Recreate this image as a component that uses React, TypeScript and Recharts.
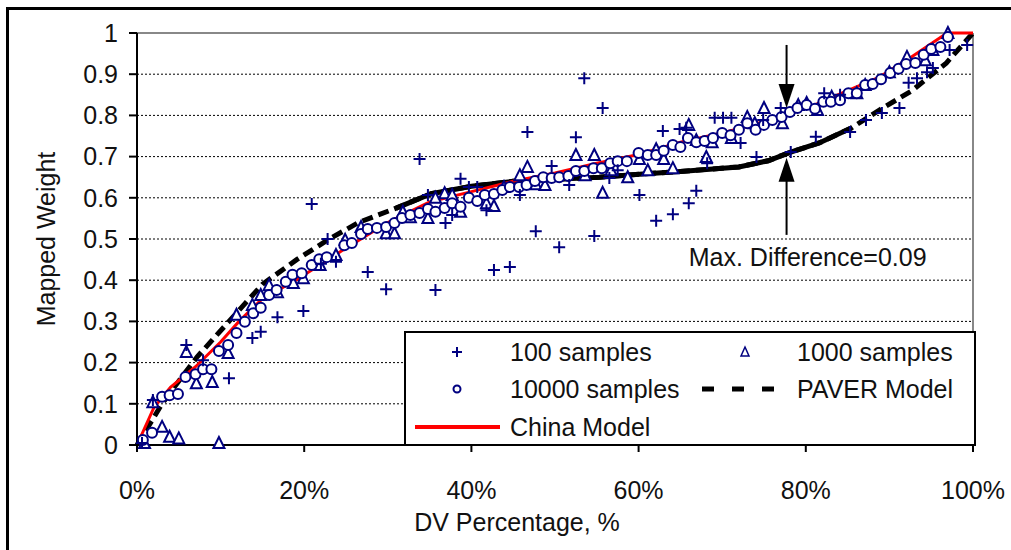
import {
  CartesianGrid,
  ComposedChart,
  Legend,
  Line,
  ReferenceDot,
  ReferenceLine,
  Scatter,
  XAxis,
  YAxis,
} from "recharts";

const xTicks = [0, 20, 40, 60, 80, 100];
const yTicks = [0, 0.1, 0.2, 0.3, 0.4, 0.5, 0.6, 0.7, 0.8, 0.9, 1];

// [DV %, mapped weight]
const samples100 = [
  [0.6, 0.005], [1.9, 0.109], [5.9, 0.243], [7.9, 0.206], [11, 0.162], [13.8, 0.26],
  [14.8, 0.275], [16.8, 0.31], [19.9, 0.325], [20.9, 0.585], [22, 0.44], [22.8, 0.5],
  [23.8, 0.445], [27.6, 0.42], [29.8, 0.378], [33.8, 0.694], [34.8, 0.607], [35.7, 0.376],
  [36.9, 0.539], [37.7, 0.558], [38.7, 0.646], [39.7, 0.626], [40.7, 0.626], [41.8, 0.57],
  [42.7, 0.425], [44.6, 0.432], [45.8, 0.607], [46.7, 0.76], [47.7, 0.519], [49.6, 0.677],
  [50.5, 0.48], [51.7, 0.631], [52.5, 0.747], [53.5, 0.89], [54.7, 0.507], [55.7, 0.818],
  [56.5, 0.648], [57.5, 0.667], [60.1, 0.607], [62.1, 0.544], [62.9, 0.762], [64.1, 0.56],
  [64.9, 0.767], [65.7, 0.77], [66, 0.587], [66.9, 0.617], [68.2, 0.684], [69.1, 0.794],
  [70.1, 0.794], [71.1, 0.794], [72.2, 0.733], [74.1, 0.699], [74.9, 0.789], [77, 0.818],
  [78.2, 0.711], [81.2, 0.748], [82.2, 0.854], [84.1, 0.85], [85.3, 0.76], [87.2, 0.789],
  [89.1, 0.806], [91.2, 0.818], [92.3, 0.879], [93.3, 0.89], [94.5, 0.905], [95.2, 0.915],
  [97.2, 0.959], [99.3, 0.971],
];

const samples1000 = [
  [0.9, 0.005], [1.9, 0.104], [3, 0.044], [3.9, 0.02], [5, 0.016], [9.8, 0.005],
  [5.9, 0.226], [7.1, 0.15], [9, 0.153], [10.9, 0.223], [11.9, 0.316], [13.8, 0.34],
  [14.8, 0.364], [15.8, 0.388], [16.8, 0.371], [18.7, 0.393], [19.9, 0.405], [21.9, 0.437],
  [23.8, 0.461], [24.9, 0.498], [26.8, 0.529], [29.8, 0.514], [30.8, 0.514], [31.8, 0.566],
  [32.7, 0.553], [34.8, 0.551], [35.7, 0.6], [36.8, 0.611], [37.7, 0.607], [38.7, 0.566],
  [41.8, 0.587], [42.7, 0.58], [43.9, 0.626], [45.8, 0.655], [46.7, 0.675], [47.7, 0.633],
  [48.8, 0.631], [52.5, 0.704], [53.6, 0.655], [54.7, 0.704], [55.7, 0.612], [56.7, 0.667],
  [58.7, 0.65], [60.1, 0.694], [61.1, 0.667], [62.1, 0.718], [63, 0.694], [64.1, 0.672],
  [66, 0.777], [66.9, 0.74], [68.1, 0.699], [68.8, 0.735], [71.1, 0.745], [73, 0.796],
  [73.9, 0.781], [75, 0.818], [77.2, 0.781], [79.1, 0.825], [80.1, 0.83], [81.4, 0.813],
  [83.1, 0.845], [86.1, 0.854], [87.1, 0.874], [90, 0.905], [92.1, 0.942], [94.3, 0.934],
  [95.2, 0.959], [97, 1.0],
];

const samples10000 = [
  [0.7, 0.012], [1.8, 0.03], [3, 0.117], [3.9, 0.121], [4.9, 0.124], [5.8, 0.165],
  [7, 0.172], [7.9, 0.184], [8.9, 0.184], [9.8, 0.228], [10.9, 0.243], [11.9, 0.272],
  [12.9, 0.299], [13.9, 0.32], [14.8, 0.333], [15.8, 0.364], [16.7, 0.376], [17.8, 0.396],
  [18.6, 0.413], [19.7, 0.417], [20.9, 0.437], [21.8, 0.451], [22.7, 0.456], [24.8, 0.485],
  [25.7, 0.49], [26.8, 0.512], [27.6, 0.524], [28.7, 0.527], [29.8, 0.529], [30.8, 0.539],
  [31.7, 0.551], [32.7, 0.558], [33.8, 0.563], [34.8, 0.573], [35.7, 0.566], [36.8, 0.575],
  [37.7, 0.587], [38.7, 0.578], [39.7, 0.6], [40.7, 0.592], [41.6, 0.607], [42.7, 0.609],
  [43.7, 0.619], [44.6, 0.626], [45.7, 0.626], [46.6, 0.631], [47.6, 0.641], [48.6, 0.65],
  [49.6, 0.648], [50.5, 0.65], [51.6, 0.653], [52.5, 0.665], [53.5, 0.665], [54.6, 0.672],
  [55.6, 0.672], [56.6, 0.684], [57.5, 0.689], [58.6, 0.689], [60, 0.709], [61.1, 0.704],
  [62.1, 0.704], [63, 0.714], [64.1, 0.728], [65, 0.723], [65.9, 0.745], [66.9, 0.735],
  [67.9, 0.738], [68.9, 0.745], [70, 0.757], [71, 0.752], [72, 0.765], [73, 0.781],
  [74, 0.765], [75, 0.777], [76, 0.789], [77.1, 0.796], [78.1, 0.808], [79, 0.818],
  [80.1, 0.825], [81.1, 0.816], [82.1, 0.833], [83, 0.833], [84.1, 0.837], [85.1, 0.854],
  [86.1, 0.854], [87.1, 0.874], [88, 0.876], [89, 0.888], [90.1, 0.903], [91.1, 0.913],
  [92, 0.925], [93.1, 0.927], [94.1, 0.947], [95, 0.961], [96.1, 0.966], [97, 0.99],
];

const chinaModel = [
  [0, 0], [2, 0.09], [4, 0.14], [7, 0.19], [10, 0.25], [12.2, 0.3], [15, 0.355],
  [19, 0.4], [24.4, 0.47], [30, 0.54], [35, 0.59], [40, 0.615], [45, 0.64], [50, 0.66],
  [55, 0.684], [60, 0.705], [65, 0.735], [70.5, 0.76], [77, 0.796], [81, 0.825],
  [85, 0.86], [88.8, 0.893], [92.5, 0.94], [96.9, 1.0], [100, 1.0],
];

const paverModel = [
  [0, 0], [3, 0.1], [5.1, 0.158], [7.2, 0.214], [11, 0.3], [15, 0.39], [19.1, 0.45],
  [23, 0.5], [26.5, 0.54], [31, 0.575], [35.2, 0.61], [40, 0.628], [45, 0.64], [50, 0.645],
  [55.3, 0.65], [60.5, 0.658], [65, 0.664], [72, 0.675], [75.5, 0.69], [78.2, 0.711],
  [81.6, 0.733], [85.5, 0.77], [88.8, 0.813], [92.7, 0.86], [96.8, 0.927], [100, 1.0],
];
// the middle stretch of the PAVER line prints as solid in the original
const paverSolidRange = [31, 86];

// max difference marker: x, top shaft, top arrow tip, bottom arrow tip, bottom shaft
const diffX = 77.7;
const diffTop = [0.971, 0.818];
const diffBottom = [0.51, 0.697];
const diffText = "Max. Difference=0.09";

const toPts = (arr: number[][]) => arr.map(([x, y]) => ({ x, y }));
const paverSolid = toPts(
  paverModel.filter(([x]) => x >= paverSolidRange[0] && x <= paverSolidRange[1])
);

const NAVY = "#000080";
const FONT = "'Liberation Sans', Arial, sans-serif";

const Plus = (p: any) => (
  <path
    d={`M${p.cx - 6},${p.cy}H${p.cx + 6}M${p.cx},${p.cy - 6}V${p.cy + 6}`}
    stroke={NAVY}
    strokeWidth={2}
  />
);
const Tri = (p: any) => (
  <path
    d={`M${p.cx},${p.cy - 6}L${p.cx + 5.5},${p.cy + 5}L${p.cx - 5.5},${p.cy + 5}Z`}
    stroke={NAVY}
    strokeWidth={2}
    fill="#fff"
  />
);
const Circ = (p: any) => (
  <circle cx={p.cx} cy={p.cy} r={5} stroke={NAVY} strokeWidth={2} fill="#fff" />
);

const HeadDown = (p: any) => (
  <path d={`M${p.cx},${p.cy}L${p.cx - 8},${p.cy - 24}L${p.cx + 8},${p.cy - 24}Z`} fill="#000" />
);
const HeadUp = (p: any) => (
  <path d={`M${p.cx},${p.cy}L${p.cx - 8},${p.cy + 24}L${p.cx + 8},${p.cy + 24}Z`} fill="#000" />
);
const DiffLabel = (p: any) => (
  <text x={p.cx} y={p.cy} dy="0.35em" fontSize={25} fontFamily={FONT} fill="#111">
    {diffText}
  </text>
);

function LegendBox() {
  const txt = { position: "absolute" as const, fontSize: 25, lineHeight: "26px", color: "#111" };
  return (
    <div
      style={{
        width: 572,
        height: 115,
        boxSizing: "border-box",
        border: "2px solid #000",
        background: "#fff",
        position: "relative",
        fontFamily: FONT,
      }}
    >
      <svg width={568} height={111} style={{ position: "absolute", left: 0, top: 0 }}>
        <path d="M46,19H56M51,14V24" stroke={NAVY} strokeWidth={2} />
        <circle cx={51} cy={56} r={3.5} stroke={NAVY} strokeWidth={2} fill="none" />
        <line x1={9} y1={94} x2={94} y2={94} stroke="#f00" strokeWidth={4} />
        <path d="M339,14L343,23L335,23Z" stroke={NAVY} strokeWidth={1.5} fill="none" />
        <line x1={296} y1={56} x2={383} y2={56} stroke="#000" strokeWidth={5} strokeDasharray="12 18" />
      </svg>
      <span style={{ ...txt, left: 104, top: 6 }}>100 samples</span>
      <span style={{ ...txt, left: 104, top: 43 }}>10000 samples</span>
      <span style={{ ...txt, left: 104, top: 81 }}>China Model</span>
      <span style={{ ...txt, left: 391, top: 6 }}>1000 samples</span>
      <span style={{ ...txt, left: 391, top: 43 }}>PAVER Model</span>
    </div>
  );
}

export default function App() {
  return (
    <div
      style={{
        position: "absolute",
        left: 0,
        top: 0,
        width: 1011,
        height: 550,
        overflow: "hidden",
        background: "#fff",
      }}
    >
      <div
        style={{
          position: "absolute",
          left: 6,
          top: 7,
          width: 1100,
          height: 700,
          border: "3px solid #000",
        }}
      />
      <ComposedChart
        width={1011}
        height={550}
        margin={{ top: 33, right: 38, bottom: 0, left: 0 }}
        style={{ position: "absolute", left: 0, top: 0, fontFamily: FONT }}
      >
        <CartesianGrid vertical={false} stroke="#000" strokeDasharray="2 2" />
        <XAxis
          type="number"
          dataKey="x"
          domain={[0, 100]}
          ticks={xTicks}
          tickFormatter={(v: number) => `${v}%`}
          height={105}
          tickSize={7}
          tickMargin={29}
          tick={{ fill: "#111", fontSize: 25 }}
          axisLine={{ stroke: "#000", strokeWidth: 2 }}
          tickLine={{ stroke: "#000", strokeWidth: 2 }}
          label={{
            content: () => (
              <text x={517} y={531} textAnchor="middle" fontSize={25} fill="#111">
                DV Percentage, %
              </text>
            ),
          }}
        />
        <YAxis
          type="number"
          dataKey="y"
          domain={[0, 1]}
          ticks={yTicks}
          tickFormatter={(v: number) => String(Number(v.toFixed(1)))}
          width={137}
          tickSize={8}
          tickMargin={11}
          tick={{ fill: "#111", fontSize: 25 }}
          axisLine={{ stroke: "#000", strokeWidth: 2 }}
          tickLine={{ stroke: "#000", strokeWidth: 2 }}
          label={{
            content: () => (
              <text
                x={55}
                y={239}
                transform="rotate(-90, 55, 239)"
                textAnchor="middle"
                fontSize={25}
                fill="#111"
              >
                Mapped Weight
              </text>
            ),
          }}
        />
        <ReferenceLine y={1} stroke="#888" strokeWidth={2} />
        <ReferenceLine x={100} stroke="#888" strokeWidth={2} />
        <Line
          data={toPts(paverModel)}
          dataKey="y"
          type="linear"
          stroke="#000"
          strokeWidth={5}
          strokeDasharray="11 6"
          dot={false}
          isAnimationActive={false}
          legendType="none"
        />
        <Line
          data={paverSolid}
          dataKey="y"
          type="linear"
          stroke="#000"
          strokeWidth={5}
          dot={false}
          isAnimationActive={false}
          legendType="none"
        />
        <Line
          data={toPts(chinaModel)}
          dataKey="y"
          type="linear"
          stroke="#f00"
          strokeWidth={3}
          dot={false}
          isAnimationActive={false}
          name="China Model"
        />
        <Scatter data={toPts(samples1000)} shape={Tri} isAnimationActive={false} name="1000 samples" />
        <Scatter data={toPts(samples10000)} shape={Circ} isAnimationActive={false} name="10000 samples" />
        <Scatter data={toPts(samples100)} shape={Plus} isAnimationActive={false} name="100 samples" />
        <ReferenceLine
          segment={[{ x: diffX, y: diffTop[0] }, { x: diffX, y: diffTop[1] + 0.05 }]}
          stroke="#000"
          strokeWidth={2}
        />
        <ReferenceLine
          segment={[{ x: diffX, y: diffBottom[0] }, { x: diffX, y: diffBottom[1] - 0.05 }]}
          stroke="#000"
          strokeWidth={2}
        />
        <ReferenceDot x={diffX} y={diffTop[1]} shape={HeadDown} />
        <ReferenceDot x={diffX} y={diffBottom[1]} shape={HeadUp} />
        <ReferenceDot x={66} y={0.455} shape={DiffLabel} />
        <Legend
          layout="vertical"
          align="center"
          verticalAlign="middle"
          content={() => <LegendBox />}
          wrapperStyle={{ left: 404, top: 331, width: 572, height: 115 }}
        />
      </ComposedChart>
    </div>
  );
}
